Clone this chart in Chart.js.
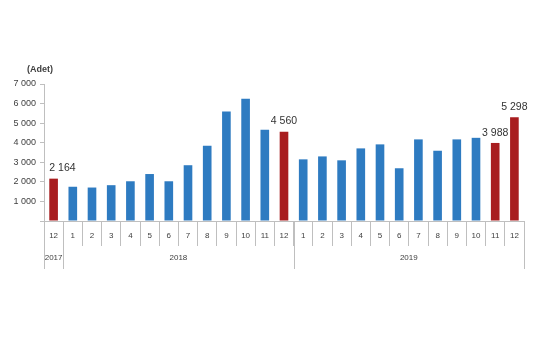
<!DOCTYPE html>
<html>
<head>
<meta charset="utf-8">
<script src="https://cdn.jsdelivr.net/npm/chart.js@4"></script>
<style>
  html, body { margin: 0; padding: 0; background: #fff; }
  #wrap { width: 555px; height: 355px; position: relative; }
</style>
</head>
<body>
<div id="wrap"><canvas id="barChart"></canvas></div>
<script>
// months, 12/2017 .. 12/2019
var months = ['12','1','2','3','4','5','6','7','8','9','10','11','12',
              '1','2','3','4','5','6','7','8','9','10','11','12'];
var values = [2164, 1750, 1710, 1830, 2030, 2400, 2030, 2850, 3845, 5590, 6250, 4660, 4560,
              3150, 3300, 3100, 3710, 3915, 2695, 4170, 3590, 4170, 4250, 3988, 5298];
// bars shown in red and with a value label
var highlighted = [0, 12, 23, 24];
var years = ['2017', '2018', '2019'];
var yearMonths = [1, 12, 12];
var yTicks = [1000, 2000, 3000, 4000, 5000, 6000, 7000];

var BLUE = '#2e7bc1';
var RED = '#a81d1f';
var FONT = '"Liberation Sans", Arial, sans-serif';

var barColors = values.map(function(v, i) {
    return highlighted.indexOf(i) >= 0 ? RED : BLUE;
});

function fmt(n) {
    return String(n).replace(/\B(?=(\d{3})+(?!\d))/g, ' ');
}

// value labels over the red bars
var valueLabels = {
    id: 'valueLabels',
    afterDatasetsDraw: function(chart) {
        var ctx = chart.ctx;
        var meta = chart.getDatasetMeta(0);
        ctx.save();
        ctx.font = '10.5px ' + FONT;
        ctx.fillStyle = '#333';
        ctx.textBaseline = 'bottom';
        highlighted.forEach(function(i) {
            var bar = meta.data[i];
            if (i === 0) {
                // first label would hit the axis, keep it over the bar's left edge
                ctx.textAlign = 'left';
                ctx.fillText(fmt(values[i]), bar.x - bar.width / 2, bar.y - 5);
            } else {
                ctx.textAlign = 'center';
                ctx.fillText(fmt(values[i]), bar.x, bar.y - 5);
            }
        });
        ctx.restore();
    }
};

// year row under the month labels, plus the "(Adet)" caption
var yearRow = {
    id: 'yearRow',
    afterDraw: function(chart) {
        var ctx = chart.ctx;
        var x = chart.scales.x;
        var half = (x.getPixelForValue(1) - x.getPixelForValue(0)) / 2;
        var top = x.top;
        ctx.save();
        ctx.strokeStyle = '#bfbfbf';
        ctx.lineWidth = 1;
        ctx.font = '8px ' + FONT;
        ctx.fillStyle = '#404040';
        ctx.textAlign = 'center';
        ctx.textBaseline = 'middle';
        var start = 0;
        years.forEach(function(y, k) {
            var end = start + yearMonths[k] - 1;
            var left = x.getPixelForValue(start) - half;
            var right = x.getPixelForValue(end) + half;
            [left, right].forEach(function(px) {
                px = Math.round(px) + 0.5;
                ctx.beginPath();
                ctx.moveTo(px, top);
                ctx.lineTo(px, top + 48);
                ctx.stroke();
            });
            ctx.fillText(y, (left + right) / 2, top + 37);
            start = end + 1;
        });

        ctx.font = 'bold 9px ' + FONT;
        ctx.textAlign = 'left';
        ctx.fillText('(Adet)', 27, 70);
        ctx.restore();
    }
};

var ctx = document.getElementById('barChart').getContext('2d');
var barChart = new Chart(ctx, {
    type: 'bar',
    data: {
        labels: months,
        datasets: [{
            data: values,
            backgroundColor: barColors,
            barPercentage: 0.45,
            categoryPercentage: 1
        }]
    },
    options: {
        responsive: true,
        maintainAspectRatio: false,
        animation: false,
        layout: { padding: { left: 0, right: 31, top: 84, bottom: 0 } },
        plugins: {
            legend: { display: false },
            tooltip: { enabled: false }
        },
        scales: {
            x: {
                grid: {
                    drawOnChartArea: false,
                    offset: true,
                    tickLength: 25,
                    color: '#bfbfbf'
                },
                border: { color: '#bfbfbf' },
                ticks: {
                    font: { size: 8, family: FONT },
                    color: '#404040',
                    padding: -15,
                    maxRotation: 0,
                    autoSkip: false
                },
                afterFit: function(s) { s.height = 134; }
            },
            y: {
                min: 0,
                max: 7000,
                afterBuildTicks: function(s) {
                    s.ticks = [0].concat(yTicks).map(function(v) { return { value: v }; });
                },
                grid: {
                    drawOnChartArea: false,
                    tickLength: 4,
                    color: '#bfbfbf'
                },
                border: { color: '#bfbfbf' },
                ticks: {
                    font: { size: 9, family: FONT },
                    color: '#404040',
                    padding: 4,
                    callback: function(v) { return v === 0 ? '' : fmt(v); }
                },
                afterFit: function(s) { s.width = 44; }
            }
        }
    },
    plugins: [valueLabels, yearRow]
});
</script>
</body>
</html>
